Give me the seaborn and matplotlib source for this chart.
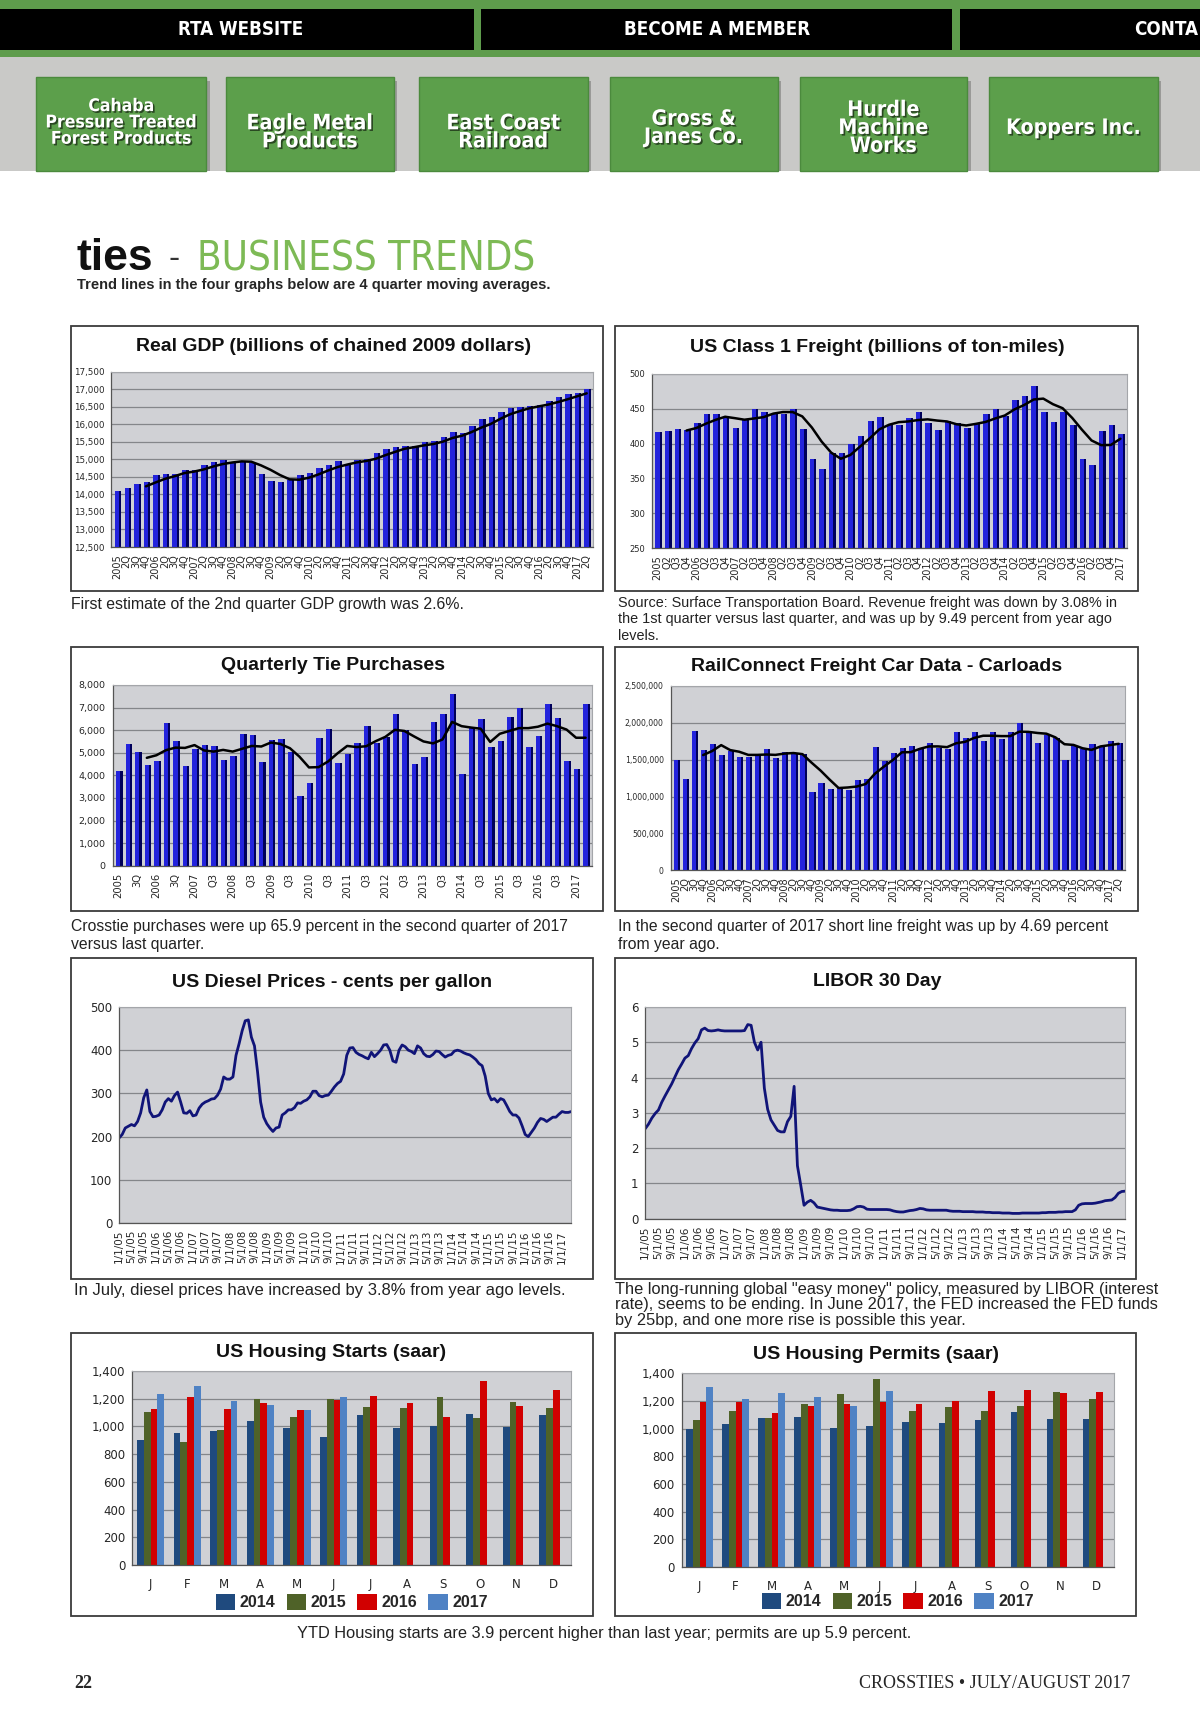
import numpy as np
import pandas as pd
import matplotlib
matplotlib.use("Agg")
import matplotlib.pyplot as plt
import matplotlib.patheffects as pe
from matplotlib.patches import Rectangle
from matplotlib.ticker import FuncFormatter
from matplotlib import font_manager
import seaborn as sns

# ---------------- data ----------------
GDP_LABELS = [lab for y in range(2005, 2018) for lab in (str(y), '2Q', '3Q', '4Q')][:50]
GDP = [14100, 14170, 14290, 14360, 14540, 14590, 14590, 14710, 14710, 14830, 14930, 14990,
       14890, 14960, 14890, 14580, 14380, 14360, 14400, 14540, 14600, 14740, 14840, 14940,
       14880, 14990, 15010, 15190, 15290, 15360, 15370, 15370, 15490, 15520, 15640, 15790,
       15750, 15940, 16140, 16210, 16340, 16450, 16500, 16530, 16560, 16660, 16780, 16850,
       16900, 17000]

FREIGHT_LABELS = [lab for y in range(2005, 2018) for lab in (str(y), 'Q2', 'Q3', 'Q4')][:49]
FREIGHT = [416, 418, 421, 420, 430, 443, 443, 438, 422, 434, 450, 446,
           442, 443, 450, 421, 378, 363, 386, 386, 400, 411, 433, 438,
           426, 426, 437, 446, 430, 419, 432, 430, 423, 428, 443, 450,
           440, 463, 468, 482, 445, 431, 445, 426, 378, 369, 418, 427,
           414]

TIE_LABELS = ['2005', '3Q', '2006', '3Q', '2007', 'Q3', '2008', 'Q3', '2009', 'Q3', '2010', 'Q3',
              '2011', 'Q3', '2012', 'Q3', '2013', 'Q3', '2014', 'Q3', '2015', 'Q3', '2016', 'Q3', '2017']
TIES = [4200, 5400, 5050, 4450, 4650, 6300, 5500, 4400, 5150, 5350, 5300, 4700,
        4850, 5850, 5800, 4600, 5550, 5600, 5050, 3100, 3650, 5650, 6050, 4550,
        4950, 5450, 6200, 5450, 5700, 6700, 6000, 4500, 4800, 6350, 6700, 7600,
        4050, 6100, 6500, 5250, 5500, 6600, 7000, 5250, 5750, 7150, 6550, 4650,
        4300, 7150]

CARLOAD_LABELS = GDP_LABELS
CARLOADS_K = [1490, 1240, 1890, 1630, 1710, 1560, 1620, 1540, 1540, 1560, 1640, 1520,
              1610, 1590, 1580, 1060, 1180, 1100, 1120, 1090, 1230, 1240, 1670, 1480,
              1590, 1660, 1680, 1660, 1720, 1660, 1640, 1870, 1800, 1870, 1760, 1870,
              1780, 1870, 2000, 1860, 1720, 1830, 1800, 1490, 1680, 1650, 1710, 1680,
              1750, 1720]

DATE_LABELS = [f"{m}/1/{y:02d}" for y in range(5, 18) for m in (1, 5, 9)][:37]
DIESEL = [197, 205, 220, 224, 228, 225, 235, 255, 290, 308, 258, 246,
          247, 250, 262, 280, 288, 282, 295, 303, 280, 255, 254, 260,
          248, 250, 266, 275, 280, 283, 287, 288, 296, 310, 338, 333,
          333, 338, 388, 415, 445, 468, 470, 430, 410, 350, 280, 245,
          230, 220, 212, 220, 222, 250, 255, 262, 262, 267, 278, 277,
          282, 285, 292, 305, 305, 295, 292, 295, 296, 305, 315, 323,
          328, 345, 388, 405, 406, 395, 390, 387, 383, 380, 395, 385,
          392, 400, 412, 413, 400, 375, 372, 400, 412, 408, 400, 397,
          392, 410, 405, 392, 386, 385, 390, 398, 397, 390, 384, 388,
          390, 398, 400, 398, 394, 391, 389, 384, 378, 369, 364, 340,
          300, 285, 288, 280, 288, 285, 272, 258, 250, 250, 243, 225,
          205, 200, 210, 220, 233, 242, 240, 235, 240, 245, 245, 252,
          258, 256, 256, 258]
LIBOR = [2.55, 2.68, 2.85, 2.98, 3.08, 3.30, 3.48, 3.65, 3.82, 4.02, 4.22, 4.38,
         4.55, 4.62, 4.82, 4.98, 5.10, 5.35, 5.40, 5.33, 5.32, 5.33, 5.35, 5.33,
         5.32, 5.32, 5.32, 5.32, 5.32, 5.32, 5.33, 5.50, 5.48, 5.00, 4.78, 5.00,
         3.70, 3.10, 2.80, 2.65, 2.50, 2.46, 2.46, 2.75, 2.90, 3.75, 1.50, 0.95,
         0.38, 0.47, 0.52, 0.45, 0.33, 0.31, 0.29, 0.27, 0.25, 0.24, 0.24, 0.23,
         0.23, 0.23, 0.24, 0.28, 0.34, 0.35, 0.33, 0.27, 0.26, 0.26, 0.26, 0.26,
         0.26, 0.26, 0.25, 0.22, 0.20, 0.19, 0.19, 0.21, 0.23, 0.24, 0.26, 0.29,
         0.28, 0.25, 0.24, 0.24, 0.24, 0.24, 0.24, 0.24, 0.22, 0.21, 0.21, 0.21,
         0.20, 0.20, 0.20, 0.20, 0.19, 0.19, 0.19, 0.18, 0.18, 0.17, 0.17, 0.17,
         0.16, 0.16, 0.16, 0.15, 0.15, 0.15, 0.16, 0.16, 0.16, 0.16, 0.16, 0.16,
         0.17, 0.17, 0.18, 0.18, 0.18, 0.19, 0.19, 0.20, 0.20, 0.20, 0.25, 0.38,
         0.42, 0.43, 0.43, 0.43, 0.44, 0.46, 0.48, 0.51, 0.52, 0.53, 0.60, 0.72,
         0.77, 0.78]

MONTHS = ['J', 'F', 'M', 'A', 'M', 'J', 'J', 'A', 'S', 'O', 'N', 'D']
YEARS = ['2014', '2015', '2016', '2017']
NA = np.nan
STARTS = {
    '2014': [900, 950, 970, 1040, 985, 925, 1080, 985, 1000, 1090, 995, 1080],
    '2015': [1100, 885, 975, 1200, 1065, 1200, 1140, 1135, 1210, 1060, 1175, 1135],
    '2016': [1125, 1210, 1125, 1165, 1115, 1190, 1220, 1165, 1065, 1325, 1145, 1265],
    '2017': [1235, 1290, 1185, 1155, 1120, 1215, NA, NA, NA, NA, NA, NA],
}
PERMITS = {
    '2014': [1000, 1030, 1075, 1080, 1005, 1015, 1050, 1040, 1060, 1120, 1070, 1070],
    '2015': [1065, 1125, 1075, 1175, 1250, 1360, 1130, 1155, 1125, 1165, 1265, 1215],
    '2016': [1190, 1195, 1115, 1160, 1175, 1190, 1175, 1200, 1270, 1280, 1255, 1265],
    '2017': [1300, 1215, 1260, 1225, 1165, 1270, NA, NA, NA, NA, NA, NA],
}
HOUSING_COLORS = ['#1f4a7e', '#4f6228', '#d10000', '#4f82c4']

BUTTONS = [(33, 187, 111, 'Cahaba\nPressure Treated\nForest Products', 14),
           (205, 357, 120, 'Eagle Metal\nProducts', 17),
           (380, 533, 120, 'East Coast\nRailroad', 17),
           (553, 705, 116, 'Gross &\nJanes Co.', 17),
           (725, 877, 116, 'Hurdle\nMachine\nWorks', 17),
           (897, 1050, 116, 'Koppers Inc.', 17)]

# ---------------- style ----------------
sns.set_style("white")
plt.rcParams['font.family'] = ['Liberation Sans', 'DejaVu Sans']

# pick a condensed face for the banner lettering, if one is installed
fonts = font_manager.fontManager.ttflist
names = {f.name for f in fonts}
if 'Liberation Sans Narrow' in names:
    NARROW, NSTRETCH, NSCALE = 'Liberation Sans Narrow', 'normal', 1.0
elif 'DejaVu Sans Condensed' in names:
    NARROW, NSTRETCH, NSCALE = 'DejaVu Sans Condensed', 'normal', 0.9
elif any(f.name == 'DejaVu Sans' and f.stretch == 'condensed' for f in fonts):
    NARROW, NSTRETCH, NSCALE = 'DejaVu Sans', 'condensed', 0.9
else:
    NARROW, NSTRETCH, NSCALE = 'Liberation Sans', 'normal', 0.8

PLOT_BG = '#d0d1d5'
GRID = '#84868a'
BLUE = '#2323dc'
SHADE = '#00005a'
LINE = '#101478'

W, H = 1088.0, 1567.7
fig = plt.figure(figsize=(12, 17.29), dpi=100)
fig.patch.set_facecolor('white')


def fr(x0, y0, x1, y1):
    return [x0 / W, 1 - y1 / H, (x1 - x0) / W, (y1 - y0) / H]


def box(x0, y0, x1, y1, **kw):
    fig.add_artist(Rectangle((x0 / W, 1 - y1 / H), (x1 - x0) / W, (y1 - y0) / H,
                             transform=fig.transFigure, **kw))


def txt(x, y, s, **kw):
    fig.text(x / W, 1 - y / H, s, **kw)


def style_axes(ax, yfs, xfs):
    ax.set_facecolor(PLOT_BG)
    ax.grid(axis='y', color=GRID, lw=0.9)
    ax.grid(axis='x', visible=False)
    ax.set_axisbelow(True)
    for side in ('top', 'right'):
        ax.spines[side].set_color('#a4a6aa')
        ax.spines[side].set_linewidth(0.8)
    for side in ('left', 'bottom'):
        ax.spines[side].set_color('#555555')
        ax.spines[side].set_linewidth(0.9)
    ax.tick_params(axis='y', labelsize=yfs, length=3, color='#555555', pad=2,
                   labelfontfamily='DejaVu Sans')
    ax.tick_params(axis='x', labelsize=xfs, length=3, color='#555555', pad=2,
                   labelfontfamily='DejaVu Sans')
    ax.set_xlabel('')
    ax.set_ylabel('')


def quarter_chart(rect, values, labels, ylim, step, yfs, xfs, every=1):
    ax = fig.add_axes(fr(*rect))
    pos = np.arange(len(values))
    # dark right-hand face of each column, then the bright front face
    ax.bar(pos + 0.2, values, width=0.5, color=SHADE, linewidth=0, zorder=2)
    sns.barplot(x=pos, y=values, orient='x', color=BLUE, saturation=1, width=0.46,
                linewidth=0, edgecolor='none', ax=ax, zorder=3)
    ma = pd.Series(values, dtype=float).rolling(4).mean()
    trend = pd.DataFrame({'x': pos, 'y': ma}).dropna()
    sns.lineplot(data=trend, x='x', y='y', color='black', lw=1.8, ax=ax, zorder=4)
    ax.set_xlim(-0.6, len(values) - 0.3)
    ax.set_ylim(*ylim)
    ax.set_yticks(np.arange(ylim[0], ylim[1] + 1, step))
    ax.yaxis.set_major_formatter(FuncFormatter(lambda v, p: f"{v:,.0f}"))
    ax.set_xticks(pos[::every])
    ax.set_xticklabels(labels, rotation=90)
    style_axes(ax, yfs, xfs)
    return ax


def line_chart(rect, values, ylim, step, yfs, xfs):
    ax = fig.add_axes(fr(*rect))
    pos = np.arange(len(values))
    sns.lineplot(x=pos, y=values, color=LINE, lw=2.0, ax=ax)
    ax.set_xlim(0, len(values) - 1)
    ax.set_ylim(*ylim)
    ax.set_yticks(np.arange(ylim[0], ylim[1] + 0.001, step))
    ax.yaxis.set_major_formatter(FuncFormatter(lambda v, p: f"{v:,.0f}"))
    ax.set_xticks(np.arange(0, 4 * len(DATE_LABELS), 4))
    ax.set_xticklabels(DATE_LABELS, rotation=90)
    style_axes(ax, yfs, xfs)
    return ax


def housing_chart(rect, data, legend_y):
    ax = fig.add_axes(fr(*rect))
    rows = [(m, yr, v) for yr in YEARS for m, v in enumerate(data[yr]) if not np.isnan(v)]
    df = pd.DataFrame(rows, columns=['month', 'year', 'value'])
    sns.barplot(data=df, x='month', y='value', hue='year', hue_order=YEARS,
                order=list(range(12)), palette=HOUSING_COLORS, saturation=1,
                width=0.74, linewidth=0, edgecolor='none', ax=ax)
    ax.set_ylim(0, 1400)
    ax.set_yticks(np.arange(0, 1401, 200))
    ax.yaxis.set_major_formatter(FuncFormatter(lambda v, p: f"{v:,.0f}"))
    ax.set_xlim(-0.5, 11.5)
    ax.set_xticks(range(12))
    ax.set_xticklabels(MONTHS)
    style_axes(ax, 8.5, 8.5)
    ax.set_xticks(np.arange(-0.5, 12, 1), minor=True)
    ax.tick_params(axis='x', which='major', length=0, pad=9)
    ax.tick_params(axis='x', which='minor', length=5, color='#555555')
    sns.move_legend(ax, 'center', bbox_to_anchor=(0.5, legend_y), ncol=4, frameon=False,
                    title=None, handlelength=1.2, handleheight=1.2, handletextpad=0.3,
                    columnspacing=0.7, prop={'weight': 'bold', 'size': 11.5})
    return ax


# ---------------- header ----------------
BANNER = dict(color='white', fontweight='bold', family=NARROW, fontstretch=NSTRETCH)
box(0, 0, W, 52, facecolor='#5e9c4c', edgecolor='none')
box(0, 8, 430, 45, facecolor='black', edgecolor='none')
box(436, 8, 863, 45, facecolor='black', edgecolor='none')
box(870, 8, W, 45, facecolor='black', edgecolor='none')
box(0, 52, W, 155, facecolor='#c9c9c7', edgecolor='none')
txt(218, 27, 'RTA WEBSITE', ha='center', va='center', fontsize=15 * NSCALE, **BANNER)
txt(650, 27, 'BECOME A MEMBER', ha='center', va='center', fontsize=15 * NSCALE, **BANNER)
txt(1086, 27, 'CONTA', ha='right', va='center', fontsize=15 * NSCALE, **BANNER)
for x0, x1, yc, label, fs in BUTTONS:
    box(x0 + 3, 73, x1 + 3, 155, facecolor='#9a9a98', edgecolor='none')
    box(x0, 70, x1, 155, facecolor='#5c9f4b', edgecolor='#4b8a3d', lw=1)
    txt((x0 + x1) / 2, yc, label, ha='center', va='center', fontsize=fs * NSCALE,
        linespacing=0.88,
        path_effects=[pe.withSimplePatchShadow(offset=(1.2, -1.2), shadow_rgbFace='black',
                                               alpha=0.55)], **BANNER)

# ---------------- page title ----------------
txt(69, 245, 'ties', fontsize=32, fontweight='bold', va='baseline', color='#111111')
txt(153, 243, '-', fontsize=24, va='baseline', color='#333333')
txt(179, 245, 'BUSINESS TRENDS', fontsize=32 * NSCALE, va='baseline', color='#7dba55',
    family=NARROW, fontstretch=NSTRETCH)
txt(70, 258, 'Trend lines in the four graphs below are 4 quarter moving averages.',
    fontsize=10.5, fontweight='bold', va='center')

# ---------------- chart frames ----------------
FRAMES = [(64, 296, 547, 536), (558, 296, 1032, 536),
          (64, 587, 547, 826), (558, 587, 1032, 826),
          (64, 869, 538, 1160), (558, 869, 1030, 1160),
          (64, 1209, 538, 1465), (558, 1209, 1030, 1465)]
for x0, y0, x1, y1 in FRAMES:
    box(x0, y0, x1, y1, facecolor='none', edgecolor='#3a3a3a', lw=1.3)

TITLE_KW = dict(ha='center', va='center', fontsize=14, fontweight='bold', color='#111111')
txt(302, 314, 'Real GDP (billions of chained 2009 dollars)', **TITLE_KW)
txt(795, 315, 'US Class 1 Freight (billions of ton-miles)', **TITLE_KW)
txt(302, 603, 'Quarterly Tie Purchases', **TITLE_KW)
txt(795, 604, 'RailConnect Freight Car Data - Carloads', **TITLE_KW)
txt(301, 891, 'US Diesel Prices - cents per gallon', **TITLE_KW)
txt(795, 890, 'LIBOR 30 Day', **TITLE_KW)
txt(300, 1226, 'US Housing Starts (saar)', **TITLE_KW)
txt(794, 1228, 'US Housing Permits (saar)', **TITLE_KW)

# ---------------- charts ----------------
quarter_chart((101, 337, 538, 496), GDP, GDP_LABELS, (12500, 17500), 500, 6.3, 7)
quarter_chart((591, 339, 1022, 497), FREIGHT, FREIGHT_LABELS, (250, 500), 50, 6, 7)
quarter_chart((102, 621, 537, 785), TIES, TIE_LABELS, (0, 8000), 1000, 6.8, 7.2, every=2)
quarter_chart((608, 622, 1020, 789), list(np.array(CARLOADS_K) * 1000), CARLOAD_LABELS,
              (0, 2500000), 500000, 5.6, 7)
line_chart((108, 913, 518, 1109), DIESEL, (0, 500), 100, 8.5, 7.5)
line_chart((585, 913, 1020, 1105), LIBOR, (0, 6), 1, 8.5, 7.5)
housing_chart((120, 1243, 518, 1419), STARTS, -0.19)
housing_chart((618, 1245, 1010, 1421), PERMITS, -0.175)

# ---------------- captions ----------------
CAP = dict(color='#222222', va='top', linespacing=1.25)
txt(64, 541, 'First estimate of the 2nd quarter GDP growth was 2.6%.', fontsize=11.4, **CAP)
txt(560, 540, 'Source: Surface Transportation Board. Revenue freight was down by 3.08% in\n'
              'the 1st quarter versus last quarter, and was up by 9.49 percent from year ago\n'
              'levels.', fontsize=10.4, **CAP)
txt(64, 833, 'Crosstie purchases were up 65.9 percent in the second quarter of 2017\n'
             'versus last quarter.', fontsize=11.3, **CAP)
txt(560, 833, 'In the second quarter of 2017 short line freight was up by 4.69 percent\n'
              'from year ago.', fontsize=11.3, **CAP)
txt(67, 1163, 'In July, diesel prices have increased by 3.8% from year ago levels.',
    fontsize=12, **CAP)
txt(558, 1162, 'The long-running global "easy money" policy, measured by LIBOR (interest\n'
               'rate), seems to be ending. In June 2017, the FED increased the FED funds\n'
               'by 25bp, and one more rise is possible this year.',
    fontsize=11.8, color='#222222', va='top', linespacing=1.05)
txt(548, 1481, 'YTD Housing starts are 3.9 percent higher than last year; permits are up 5.9 percent.',
    fontsize=11.8, color='#222222', ha='center', va='center')

# ---------------- footer ----------------
txt(67, 1526, '22', fontsize=13, fontweight='bold', family='Liberation Serif', va='center')
txt(1025, 1526, 'CROSSTIES \u2022 JULY/AUGUST 2017', fontsize=13, family='Liberation Serif',
    ha='right', va='center')

fig.savefig('out.png', dpi=100)
